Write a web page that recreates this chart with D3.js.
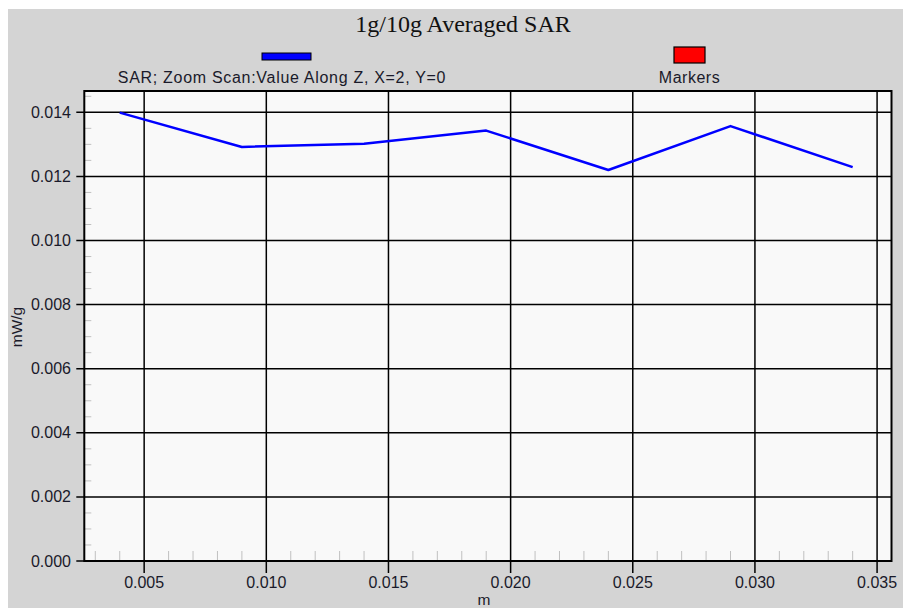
<!DOCTYPE html>
<html>
<head>
<meta charset="utf-8">
<script src="https://cdn.jsdelivr.net/npm/d3@7"></script>
<style>
  html, body { margin: 0; padding: 0; background: #fff; }
  svg { display: block; }
</style>
</head>
<body>
<div id="chart"></div>
<script>
// Data
const positions = [0.004, 0.009, 0.014, 0.019, 0.024, 0.029, 0.034];
const sarValues = [0.01399, 0.01292, 0.01302, 0.01343, 0.01220, 0.01357, 0.01229];
const xTicks = [0.005, 0.010, 0.015, 0.020, 0.025, 0.030, 0.035];
const yTicks = [0.000, 0.002, 0.004, 0.006, 0.008, 0.010, 0.012, 0.014];
const chartTitle = '1g/10g Averaged SAR';
const seriesName = 'SAR; Zoom Scan:Value Along Z, X=2, Y=0';
const markerName = 'Markers';

const width = 903, height = 608;
const plot = { left: 84.3, top: 91, right: 891.5, bottom: 561 };
const sans = '"Liberation Sans", Arial, sans-serif';
const textColor = '#1a1a2a';

const svg = d3.select('#chart').append('svg')
  .attr('width', width)
  .attr('height', height);

// Gray panel
svg.append('rect')
  .attr('x', 8).attr('y', 9)
  .attr('width', width - 8).attr('height', height - 9)
  .attr('fill', '#d4d4d4');

const x = d3.scaleLinear().domain([0.00255, 0.03559]).range([plot.left, plot.right]);
const y = d3.scaleLinear().domain([0, 0.014665]).range([plot.bottom, plot.top]);

// Plot background
svg.append('rect')
  .attr('x', plot.left).attr('y', plot.top)
  .attr('width', plot.right - plot.left).attr('height', plot.bottom - plot.top)
  .attr('fill', '#f9f9f9');

// Minor ticks (inside)
const yMinor = d3.range(0, 0.0147, 0.0005).filter(v => Math.abs(v / 0.002 - Math.round(v / 0.002)) > 1e-6);
svg.append('g').selectAll('line').data(yMinor).enter().append('line')
  .attr('x1', plot.left).attr('x2', plot.left + 7)
  .attr('y1', d => y(d)).attr('y2', d => y(d))
  .attr('stroke', '#c0c0c0').attr('stroke-width', 1);

const xMinor = d3.range(0.003, 0.0356, 0.001).filter(v => Math.abs(v / 0.005 - Math.round(v / 0.005)) > 1e-6);
svg.append('g').selectAll('line').data(xMinor).enter().append('line')
  .attr('x1', d => x(d)).attr('x2', d => x(d))
  .attr('y1', plot.bottom).attr('y2', plot.bottom - 10)
  .attr('stroke', '#c0c0c0').attr('stroke-width', 1);

// Grid lines
svg.append('g').selectAll('line').data(xTicks).enter().append('line')
  .attr('x1', d => x(d)).attr('x2', d => x(d))
  .attr('y1', plot.top).attr('y2', plot.bottom + 12)
  .attr('stroke', '#000').attr('stroke-width', 1.5);

svg.append('g').selectAll('line').data(yTicks).enter().append('line')
  .attr('x1', plot.left - 8).attr('x2', plot.right)
  .attr('y1', d => y(d)).attr('y2', d => y(d))
  .attr('stroke', '#000').attr('stroke-width', 1.5);

// Border
svg.append('rect')
  .attr('x', plot.left).attr('y', plot.top)
  .attr('width', plot.right - plot.left).attr('height', plot.bottom - plot.top)
  .attr('fill', 'none').attr('stroke', '#000').attr('stroke-width', 2);

// Tick labels
svg.append('g').selectAll('text').data(yTicks).enter().append('text')
  .attr('x', 71).attr('y', d => y(d) + 5.5)
  .attr('text-anchor', 'end')
  .style('font-family', sans)
  .style('font-size', '16px')
  .attr('fill', textColor)
  .text(d => d3.format('.3f')(d));

svg.append('g').selectAll('text').data(xTicks).enter().append('text')
  .attr('x', d => x(d)).attr('y', 588)
  .attr('text-anchor', 'middle')
  .style('font-family', sans)
  .style('font-size', '16px')
  .attr('fill', textColor)
  .text(d => d3.format('.3f')(d));

// Axis titles
svg.append('text')
  .attr('transform', 'translate(22,327) rotate(-90)')
  .attr('text-anchor', 'middle')
  .style('font-family', sans)
  .style('font-size', '15.5px')
  .attr('fill', textColor)
  .text('mW/g');

svg.append('text')
  .attr('x', 484).attr('y', 605)
  .attr('text-anchor', 'middle')
  .style('font-family', sans)
  .style('font-size', '15.5px')
  .attr('fill', textColor)
  .text('m');

// Title
svg.append('text')
  .attr('x', 463).attr('y', 32)
  .attr('text-anchor', 'middle')
  .style('font-family', '"Liberation Serif", "Times New Roman", serif')
  .style('font-size', '24px')
  .attr('fill', '#111')
  .text(chartTitle);

// Legend
svg.append('rect')
  .attr('x', 262).attr('y', 53).attr('width', 49).attr('height', 7)
  .attr('fill', '#0000ff').attr('stroke', '#000').attr('stroke-width', 1);
svg.append('text')
  .attr('x', 282).attr('y', 83)
  .attr('text-anchor', 'middle')
  .style('font-family', sans)
  .style('font-size', '16px')
  .style('letter-spacing', '0.7px')
  .attr('fill', textColor)
  .text(seriesName);

svg.append('rect')
  .attr('x', 674).attr('y', 47).attr('width', 31).attr('height', 16)
  .attr('fill', '#ff0000').attr('stroke', '#000').attr('stroke-width', 1.2);
svg.append('text')
  .attr('x', 689.5).attr('y', 83)
  .attr('text-anchor', 'middle')
  .style('font-family', sans)
  .style('font-size', '16px')
  .style('letter-spacing', '0.5px')
  .attr('fill', textColor)
  .text(markerName);

// Series line
const line = d3.line()
  .x((d, i) => x(positions[i]))
  .y(d => y(d));

svg.append('path')
  .datum(sarValues)
  .attr('d', line)
  .attr('fill', 'none')
  .attr('stroke', '#0000ff')
  .attr('stroke-width', 2.5)
  .attr('stroke-linejoin', 'round');
</script>
</body>
</html>
